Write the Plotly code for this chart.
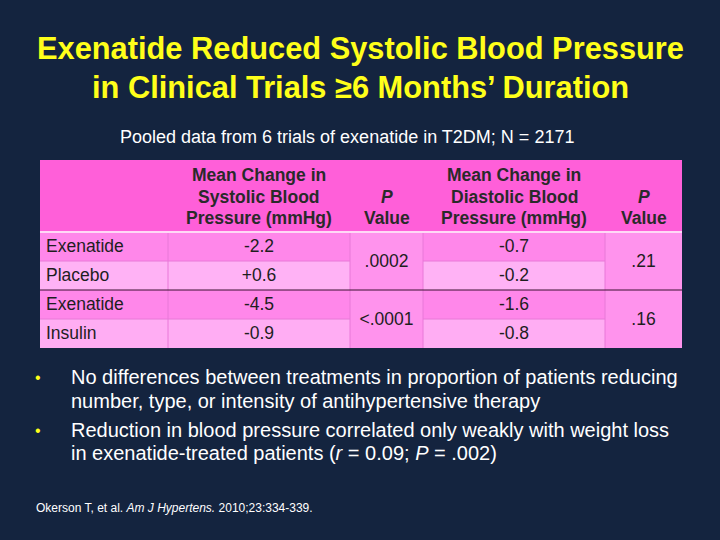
import plotly.graph_objects as go

# ---------------- data ----------------
title_lines = ["Exenatide Reduced Systolic Blood Pressure",
               "in Clinical Trials \u22656 Months\u2019 Duration"]
subtitle = "Pooled data from 6 trials of exenatide in T2DM; N = 2171"

header_labels = [[],
                 ["Mean Change in", "Systolic Blood", "Pressure (mmHg)"],
                 ["<i>P</i>", "Value"],
                 ["Mean Change in", "Diastolic Blood", "Pressure (mmHg)"],
                 ["<i>P</i>", "Value"]]
row_labels = ["Exenatide", "Placebo", "Exenatide", "Insulin"]
sbp_change = [-2.2, 0.6, -4.5, -0.9]
dbp_change = [-0.7, -0.2, -1.6, -0.8]
sbp_p = [".0002", "<.0001"]
dbp_p = [".21", ".16"]

bullets = [
    ["No differences between treatments in proportion of patients reducing",
     "number, type, or intensity of antihypertensive therapy"],
    ["Reduction in blood pressure correlated only weakly with weight loss",
     "in exenatide-treated patients (<i>r</i> = 0.09; <i>P</i> = .002)"],
]
citation = "Okerson T, et al. <i>Am J Hypertens.</i> 2010;23:334-339."

# ---------------- layout constants ----------------
W, H = 720, 540
BG = "#14243F"
col_edges = [40, 168, 350, 423, 605, 682]
row_edges = [160, 232, 261, 290, 319, 348]
header_line_y = [175, 196.5, 218]
TEXT_DY = 1.5
HEADER_FILL = "#FF5FD9"
ROW_FILLS = ["#FF87EA", "#FFB2F5", "#FF87EA", "#FFADF3"]
MERGED_FILL = "#FF93ED"
GRID = "#E878D8"
TXT = "#1E1E1E"
FONT = "Liberation Sans, Arial, sans-serif"
bullet_line_y = [[377, 401], [430, 453]]

def fmt(v):
    return f"{v:+.1f}" if v > 0 else f"{v:.1f}"

fig = go.Figure()
shapes = []
annotations = []

def rect(x0, x1, y0, y1, fill):
    shapes.append(dict(type="rect", xref="x", yref="y", x0=x0, x1=x1, y0=y0, y1=y1,
                       fillcolor=fill, line=dict(width=0), layer="below"))

def hline(x0, x1, y, color, width):
    shapes.append(dict(type="line", xref="x", yref="y", x0=x0, x1=x1, y0=y, y1=y,
                       line=dict(color=color, width=width)))

def vline(x, y0, y1, color, width):
    shapes.append(dict(type="line", xref="x", yref="y", x0=x, x1=x, y0=y0, y1=y1,
                       line=dict(color=color, width=width)))

def text_at(x, y, text, size, color, anchor="center", bold=False):
    annotations.append(dict(x=x, y=y, xref="x", yref="y",
                            text=f"<b>{text}</b>" if bold else text, showarrow=False,
                            xanchor=anchor, yanchor="middle",
                            font=dict(family=FONT, size=size, color=color)))

# header
rect(col_edges[0], col_edges[-1], row_edges[0], row_edges[1], HEADER_FILL)
# body rows
for i in range(len(row_labels)):
    y0, y1 = row_edges[i + 1], row_edges[i + 2]
    for c in (0, 1, 3):
        rect(col_edges[c], col_edges[c + 1], y0, y1, ROW_FILLS[i])
# merged P cells
for g in range(len(sbp_p)):
    y0, y1 = row_edges[1 + 2 * g], row_edges[3 + 2 * g]
    for c in (2, 4):
        rect(col_edges[c], col_edges[c + 1], y0, y1, MERGED_FILL)

# grid lines
for i in range(len(row_labels)):
    if i % 2 == 1:
        y = row_edges[i + 1]
        for c in (0, 1, 3):
            hline(col_edges[c], col_edges[c + 1], y, GRID, 1)
for c in range(1, len(col_edges) - 1):
    vline(col_edges[c], row_edges[1], row_edges[-1], GRID, 1)
hline(col_edges[0], col_edges[-1], row_edges[3], "#3A1030", 1)
hline(col_edges[0], col_edges[-1], row_edges[1], "#FFD8F6", 2)

# header text (bottom-aligned lines)
for c, lines in enumerate(header_labels):
    if not lines:
        continue
    xc = (col_edges[c] + col_edges[c + 1]) / 2
    ys = header_line_y[-len(lines):]
    for ln, y in zip(lines, ys):
        text_at(xc, y, ln, 17.5, "#2A2A2A", bold=True)

# body text via scatter
row_centers = [(row_edges[i + 1] + row_edges[i + 2]) / 2 + TEXT_DY for i in range(len(row_labels))]
fig.add_trace(go.Scatter(x=[col_edges[0] + 6] * len(row_labels), y=row_centers,
                         text=row_labels, mode="text", textposition="middle right",
                         textfont=dict(family=FONT, size=17.5, color=TXT), hoverinfo="skip"))
for c, vals in ((1, sbp_change), (3, dbp_change)):
    xc = (col_edges[c] + col_edges[c + 1]) / 2
    fig.add_trace(go.Scatter(x=[xc] * len(vals), y=row_centers,
                             text=[fmt(v) for v in vals], mode="text",
                             textposition="middle center",
                             textfont=dict(family=FONT, size=17.5, color=TXT), hoverinfo="skip"))
group_centers = [row_edges[1 + 2 * g + 1] + TEXT_DY for g in range(len(sbp_p))]
for c, vals in ((2, sbp_p), (4, dbp_p)):
    xc = (col_edges[c] + col_edges[c + 1]) / 2
    fig.add_trace(go.Scatter(x=[xc] * len(vals), y=group_centers,
                             text=vals, mode="text", textposition="middle center",
                             textfont=dict(family=FONT, size=17.5, color=TXT), hoverinfo="skip"))

# title
for ln, y in zip(title_lines, [48, 87]):
    text_at(W / 2, y, ln, 30.8, "#FFFF1A", bold=True)
text_at(347, 137, subtitle, 18, "white")

# bullets
for lines, ys in zip(bullets, bullet_line_y):
    text_at(33, ys[0], "\u2022", 16, "#FFFF1A", anchor="left")
    for ln, y in zip(lines, ys):
        text_at(69, y, ln, 20, "white", anchor="left")

text_at(34, 508, citation, 12, "white", anchor="left")

fig.update_layout(
    width=W, height=H, margin=dict(l=0, r=0, t=0, b=0),
    paper_bgcolor=BG, plot_bgcolor=BG, showlegend=False,
    xaxis=dict(range=[0, W], visible=False, fixedrange=True),
    yaxis=dict(range=[H, 0], visible=False, fixedrange=True),
    shapes=shapes, annotations=annotations,
)
fig.write_html("out.html", config={"displayModeBar": False},
               post_script="document.body.style.margin='0';document.body.style.background='" + BG + "';")
